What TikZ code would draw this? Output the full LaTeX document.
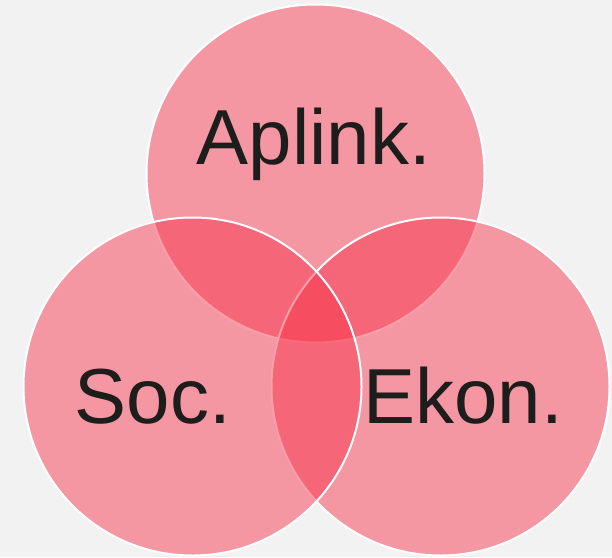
\documentclass[tikz,border=0pt]{standalone}
\usepackage{fontspec}
\setmainfont{Liberation Sans}
\definecolor{bgc}{HTML}{F2F2F2}
\definecolor{setc}{RGB}{248,49,73}
\definecolor{txtc}{HTML}{1D1D1B}
\begin{document}
\begin{tikzpicture}[x=1pt,y=-1pt,
  setcircle/.style={draw=white,line width=2pt,fill=setc,fill opacity=0.47},
  setlabel/.style={anchor=base,inner sep=0pt,text=txtc,font=\fontsize{78}{90}\selectfont}]
\fill[bgc] (0,0) rectangle (612,557);
\useasboundingbox (0,0) rectangle (612,557);
\coordinate (ct) at (315.5,173.5);
\coordinate (cr) at (440.5,386.5);
\coordinate (cl) at (192.5,386.5);
\draw[setcircle] (ct) circle[radius=169];
\draw[setcircle] (cr) circle[radius=169];
\draw[setcircle] (cl) circle[radius=169];
\node[setlabel] (apl) at (314,164) {Aplink.};
\node[setlabel] (soc) at (153,423) {Soc.};
\node[setlabel] (ekon) at (463,423) {Ekon.};
\end{tikzpicture}
\end{document}
